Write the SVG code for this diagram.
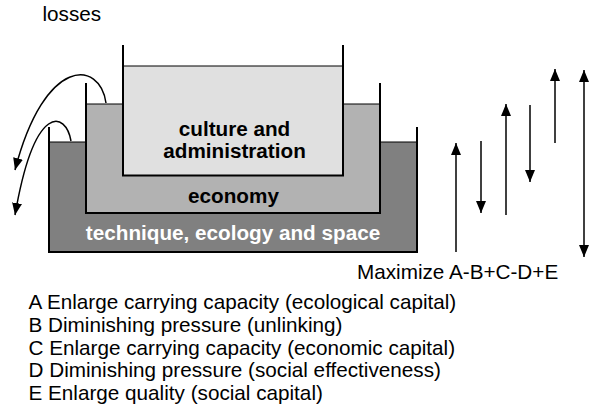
<svg xmlns="http://www.w3.org/2000/svg" width="590" height="410" viewBox="0 0 590 410">
<style>
.t{font-family:"Liberation Sans",Arial,sans-serif;font-size:20.7px;fill:#000}
.b{font-family:"Liberation Sans",Arial,sans-serif;font-size:20.7px;font-weight:bold;text-anchor:middle}
.wall{fill:none;stroke:#000;stroke-width:2}
.fill{stroke:#000;stroke-width:1}
.arr{fill:none;stroke:#000;stroke-width:1.5}
</style>
<defs>
<marker id="ah" viewBox="0 0 12 10" refX="12" refY="5" markerWidth="12" markerHeight="10" markerUnits="userSpaceOnUse" orient="auto">
<path d="M0,0 L12,5 L0,10 z" fill="#000"/>
</marker>
<marker id="ahs" viewBox="0 0 12 10" refX="12" refY="5" markerWidth="12" markerHeight="10" markerUnits="userSpaceOnUse" orient="auto-start-reverse">
<path d="M0,0 L12,5 L0,10 z" fill="#000"/>
</marker>
</defs>
<rect width="590" height="410" fill="#fff"/>
<text class="t" x="42.5" y="21">losses</text>
<g id="outer-tank">
<rect class="fill" x="49" y="142" width="368" height="110" fill="#808080"/>
<path class="wall" d="M49,127 V252 H417 V127"/>
<text class="b" x="233" y="240" fill="#fff">technique, ecology and space</text>
</g>
<g id="middle-tank">
<rect class="fill" x="86" y="104" width="294" height="109" fill="#b2b2b2"/>
<path class="wall" d="M86,83 V213 H380 V83"/>
<text class="b" x="233.5" y="202.5" fill="#000">economy</text>
</g>
<g id="inner-tank">
<rect class="fill" x="123" y="66" width="220" height="109.5" fill="#e0e0e0"/>
<path class="wall" d="M123,45 V175.5 H343 V45"/>
<text class="b" x="234.5" y="136" fill="#000">culture and</text>
<text class="b" x="234.5" y="158" fill="#000">administration</text>
</g>
<g id="connectors">
<path class="arr" d="M106,103 C100,60 45,55 15,170" marker-end="url(#ah)"/>
<path class="arr" d="M71,141 C66,112 35,100 15,215" marker-end="url(#ah)"/>
<path class="arr" d="M456,252 V143" marker-end="url(#ah)"/>
<path class="arr" d="M481,141 V213" marker-end="url(#ah)"/>
<path class="arr" d="M506,215 V104" marker-end="url(#ah)"/>
<path class="arr" d="M530,105 V182" marker-end="url(#ah)"/>
<path class="arr" d="M555,143 V69" marker-end="url(#ah)"/>
<path class="arr" d="M584,70 V257" marker-start="url(#ahs)" marker-end="url(#ah)"/>
</g>
<text class="t" x="357" y="279">Maximize A-B+C-D+E</text>
<g id="legend">
<text class="t" x="28.5" y="309">A Enlarge carrying capacity (ecological capital)</text>
<text class="t" x="28.5" y="331.75">B Diminishing pressure (unlinking)</text>
<text class="t" x="28.5" y="354.5">C Enlarge carrying capacity (economic capital)</text>
<text class="t" x="28.5" y="377.25">D Diminishing pressure (social effectiveness)</text>
<text class="t" x="28.5" y="400">E Enlarge quality (social capital)</text>
</g>
</svg>
